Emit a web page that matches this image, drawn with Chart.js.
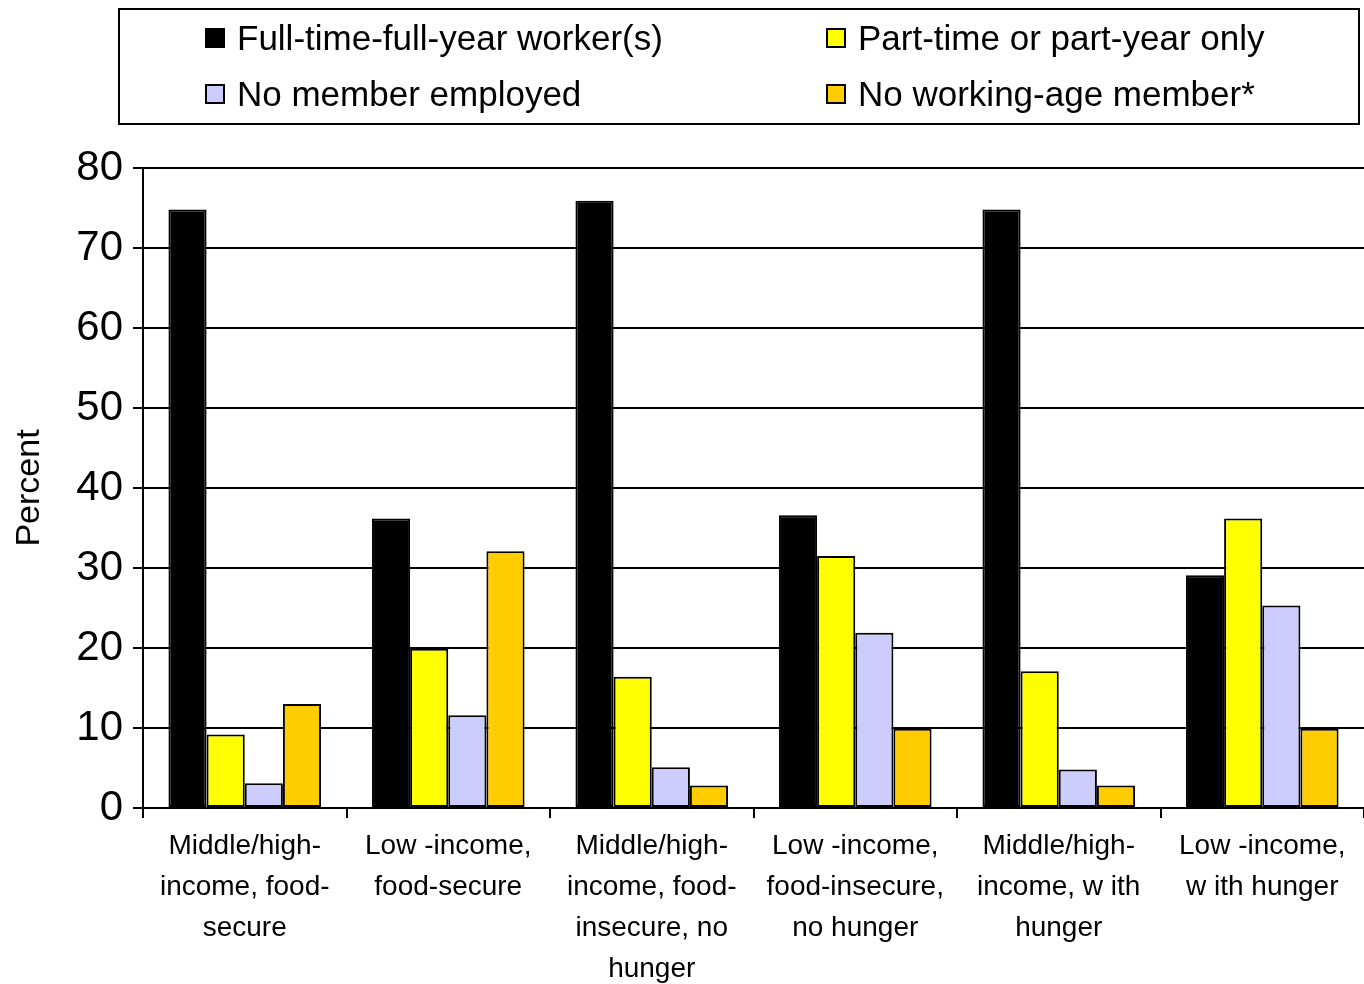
<!DOCTYPE html>
<html>
<head>
<meta charset="utf-8">
<script src="https://cdn.jsdelivr.net/npm/chart.js@4"></script>
<style>
  html, body { margin: 0; padding: 0; background: #fff; }
  #wrap { position: relative; width: 1364px; height: 984px; }
  #legend {
    position: absolute; left: 118px; top: 8px; width: 1238px; height: 113px;
    border: 2px solid #000; box-sizing: content-box;
    font-family: "Liberation Sans", Arial, sans-serif; font-size: 35px; color: #000;
  }
  .item { position: absolute; display: flex; align-items: center; white-space: nowrap; }
  .swatch { width: 20px; height: 20px; border: 2px solid #000; margin-right: 12px; box-sizing: border-box; }
</style>
</head>
<body>
<div id="wrap">
  <canvas id="chart" width="1364" height="984"></canvas>
  <div id="legend"></div>
</div>
<script>
const categories = [
  ['Middle/high-', 'income, food-', 'secure'],
  ['Low -income,', 'food-secure'],
  ['Middle/high-', 'income, food-', 'insecure, no', 'hunger'],
  ['Low -income,', 'food-insecure,', 'no hunger'],
  ['Middle/high-', 'income, w ith', 'hunger'],
  ['Low -income,', 'w ith hunger']
];

const seriesNames  = ['Full-time-full-year worker(s)', 'Part-time or part-year only', 'No member employed', 'No working-age member*'];
const seriesColors = ['#000000', '#FFFF00', '#CCCCFF', '#FFCC00'];

const fullTime   = [74.8, 36.2, 75.9, 36.6, 74.8, 29.1];
const partTime   = [9.2, 19.9, 16.4, 31.5, 17.1, 36.2];
const noEmployed = [3.1, 11.6, 5.1, 21.9, 4.8, 25.3];
const noWorkAge  = [13.0, 32.1, 2.8, 9.9, 2.8, 9.9];

const yTicks = [0, 10, 20, 30, 40, 50, 60, 70, 80];

const seriesData = [fullTime, partTime, noEmployed, noWorkAge];

// legend: 2 columns x 2 rows (order as in the picture)
const legendPos = [
  { i: 0, left: 85,  top: 8 },
  { i: 1, left: 706, top: 8 },
  { i: 2, left: 85,  top: 64 },
  { i: 3, left: 706, top: 64 }
];
const legendEl = document.getElementById('legend');
legendPos.forEach(p => {
  const div = document.createElement('div');
  div.className = 'item';
  div.style.left = p.left + 'px';
  div.style.top  = p.top + 'px';
  div.innerHTML = `<span class="swatch" style="background:${seriesColors[p.i]}"></span><span>${seriesNames[p.i]}</span>`;
  legendEl.appendChild(div);
});

const font = 'Liberation Sans, Arial, sans-serif';

new Chart(document.getElementById('chart'), {
  type: 'bar',
  data: {
    labels: categories,
    datasets: seriesData.map((d, i) => ({
      label:           seriesNames[i],
      data:            d,
      backgroundColor: seriesColors[i],
      borderColor:     '#000000',
      borderWidth:     2,
      borderSkipped:   false,
      categoryPercentage: 0.75,
      barPercentage:   1.0
    }))
  },
  options: {
    responsive: false,
    animation:  false,
    layout: { padding: { top: 168, left: 0, right: 0, bottom: 0 } },
    plugins: { legend: { display: false }, tooltip: { enabled: false } },
    scales: {
      x: {
        grid:   { drawOnChartArea: false, drawTicks: true, tickLength: 10, color: '#000', lineWidth: 2, offset: true },
        border: { color: '#000', width: 2 },
        ticks:  { color: '#000', font: { family: font, size: 28, lineHeight: 1.46 }, padding: 8, maxRotation: 0, autoSkip: false },
        afterFit: s => { s.height = 176; }
      },
      y: {
        min: 0, max: 80,
        afterBuildTicks: s => { s.ticks = yTicks.map(v => ({ value: v })); },
        grid:   { color: '#000', lineWidth: 2, tickLength: 10 },
        border: { color: '#000', width: 2 },
        ticks:  { color: '#000', font: { family: font, size: 42 }, padding: 10 },
        title:  { display: true, text: 'Percent', color: '#000', font: { family: font, size: 34 }, padding: { top: 9, bottom: 0 } },
        afterFit: s => { s.width = 143; }
      }
    }
  }
});
</script>
</body>
</html>
